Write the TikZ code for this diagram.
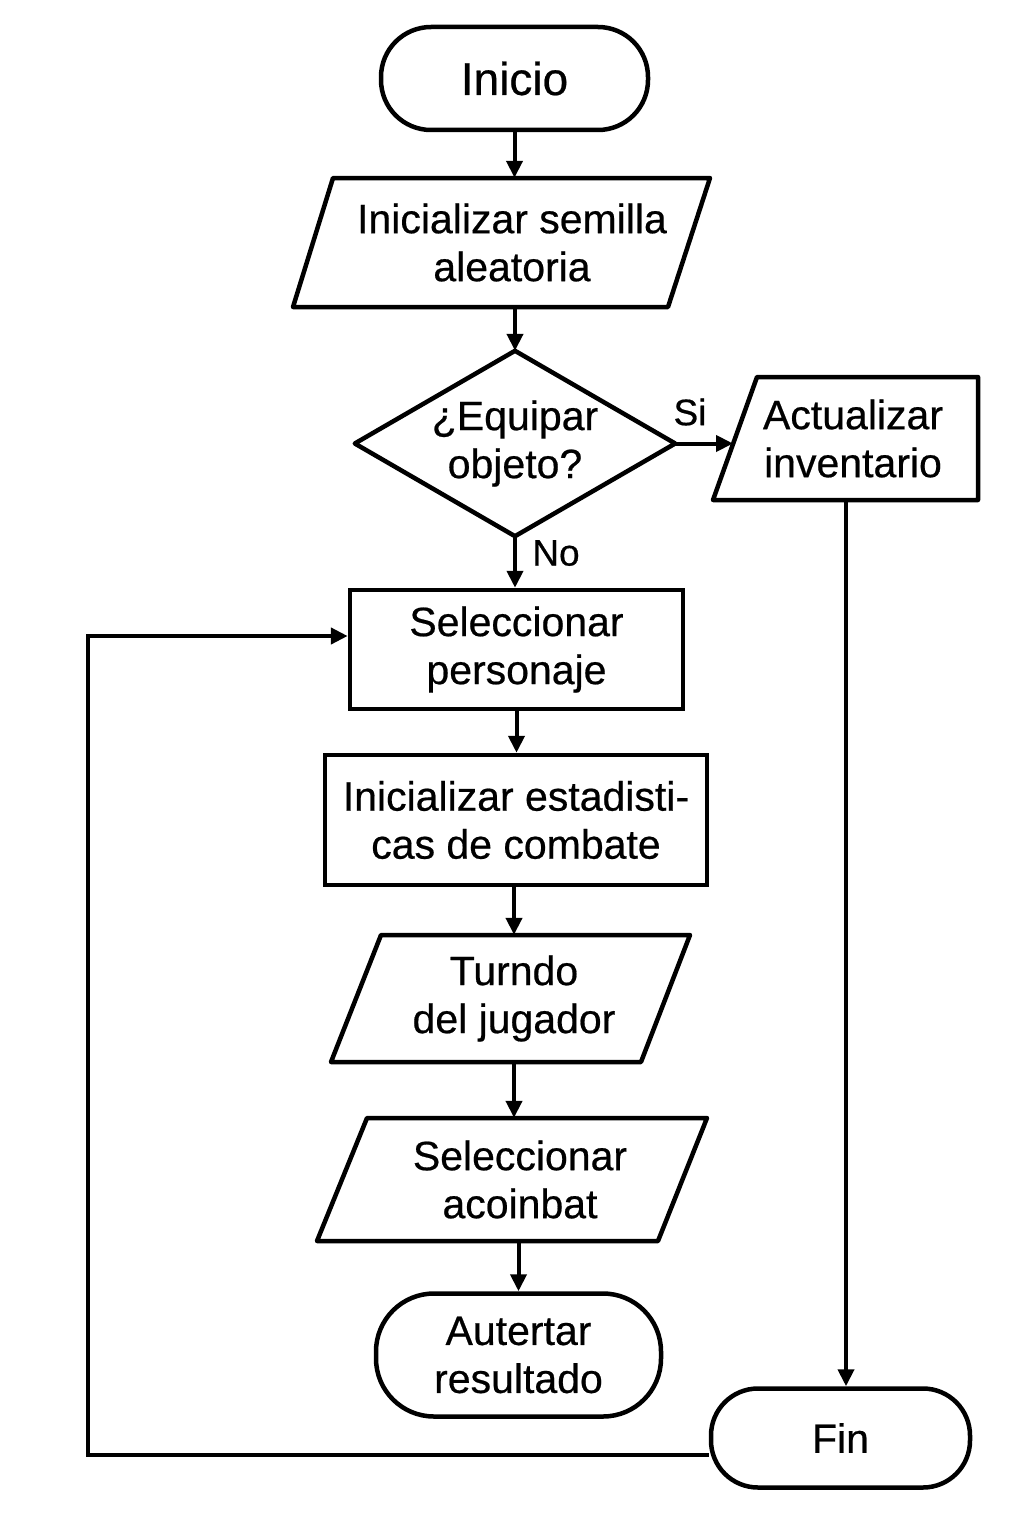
\documentclass[tikz,border=0pt]{standalone}
\usepackage{fontspec}
\setmainfont{Liberation Sans}[FakeBold=0.5]
\usetikzlibrary{arrows.meta,calc}
\begin{document}
\begin{tikzpicture}[x=1pt,y=-1pt,
  shp/.style={line width=4.5pt, line join=round},
  txt/.style={align=center, inner sep=0pt, font=\fontsize{41}{48}\selectfont},
  box/.style={txt, draw, line width=4.5pt},
  term/.style={txt, draw, line width=4.5pt, rounded corners=50pt},
  lbl/.style={inner sep=0pt, font=\fontsize{37}{42}\selectfont},
  arr/.style={line width=4pt, -{Triangle[length=17pt,width=16pt]}}]
\fill[white] (0,0) rectangle (1024,1536);
\useasboundingbox (0,0) rectangle (1024,1536);

% nodes
\node[term, minimum width=267pt, minimum height=103pt, font=\fontsize{46}{52}\selectfont] (inicio) at (514.5,78.5) {Inicio};

\node[txt, minimum height=129pt] (seed) at (512,242.5) {Inicializar semilla\\aleatoria};
\draw[shp] (333,178) -- (710,178) -- (668,307) -- (293,307) -- cycle;

\node[txt, minimum width=320pt, minimum height=185pt] (dec) at (515,443.5) {¿Equipar\\objeto?};
\draw[shp] (dec.north) -- (dec.east) -- (dec.south) -- (dec.west) -- cycle;

\node[txt, minimum height=123pt] (act) at (853,438.5) {Actualizar\\inventario};
\draw[shp] (757,377) -- (978,377) -- (978,500) -- (713,500) -- cycle;
\coordinate (actin) at (733,443.5);
\coordinate (actout) at (846,500);

\node[box, minimum width=333pt, minimum height=119pt] (sel) at (516.5,649.5) {Seleccionar\\personaje};
\node[box, minimum width=382pt, minimum height=130pt] (stats) at (516,820) {Inicializar estadisti-\\cas de combate};

\node[txt, minimum height=127pt] (turn) at (514,998.5) {Turndo\\del jugador};
\draw[shp] (381,935) -- (690,935) -- (641,1062) -- (331,1062) -- cycle;

\node[txt, minimum height=123pt] (acoin) at (520,1179.5) {Seleccionar\\acoinbat};
\draw[shp] (367,1118) -- (707,1118) -- (658,1241) -- (317,1241) -- cycle;

\node[term, minimum width=285pt, minimum height=123pt, rounded corners=58pt] (aut) at (518.5,1355) {Autertar\\resultado};
\node[term, minimum width=259pt, minimum height=99pt, rounded corners=47pt] (fin) at (840.5,1438) {Fin};

\node[lbl] (si) at (690,412) {Si};
\node[lbl] (no) at (556,553) {No};

% connectors
\draw[arr] (inicio.south) -- (inicio.south |- seed.north);
\draw[arr] (dec.north |- seed.south) -- (dec.north);
\draw[arr] (dec.east) -- (actin);
\draw[arr] (dec.south) -- (dec.south |- sel.north);
\draw[arr] (actout) -- (actout |- fin.north);
\draw[arr] (sel.south) -- (sel.south |- stats.north);
\draw[arr] (turn.north |- stats.south) -- (turn.north);
\draw[arr] (turn.south) -- (turn.south |- acoin.north);
\draw[arr] (aut.north |- acoin.south) -- (aut.north);
\draw[arr, line width=4.5pt] ([yshift=-17pt]fin.west) -- ++(-621,0) |- ([yshift=13.5pt]sel.west);
\end{tikzpicture}
\end{document}
